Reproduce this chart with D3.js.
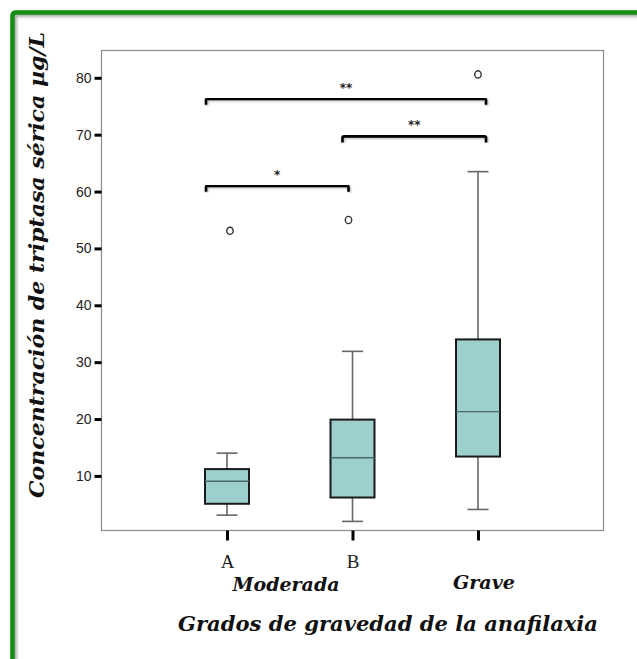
<!DOCTYPE html>
<html>
<head>
<meta charset="utf-8">
<script src="https://cdn.jsdelivr.net/npm/d3@7"></script>
<style>
  html, body { margin: 0; padding: 0; background: #fff; }
  svg { display: block; }
</style>
</head>
<body>
<svg id="chart" width="637" height="659"></svg>
<script>
// Grupos de gravedad y resumen de cada diagrama de caja (µg/L)
const categories = ["A", "B", "Grave"];
const tickLabels = ["A", "B", ""];
const whiskerLow  = [3.1, 2.0, 4.1];
const boxLow      = [5.1, 6.2, 13.4];
const medians     = [9.05, 13.2, 21.3];
const boxHigh     = [11.2, 19.9, 34.0];
const whiskerHigh = [14.0, 31.9, 63.5];
const outliers    = [53.1, 55.0, 80.6];
const yTicks = [10, 20, 30, 40, 50, 60, 70, 80];

// Comparaciones significativas entre grupos
const compFrom  = ["A", "B", "A"];
const compTo    = ["Grave", "Grave", "B"];
const compLevel = [76.3, 69.7, 61.0];
const compMark  = ["**", "**", "*"];

const svg = d3.select("#chart");

// Marco verde con sombra
const defs = svg.append("defs");
const sh = defs.append("filter").attr("id", "sh").attr("x", "-5%").attr("y", "-5%").attr("width", "110%").attr("height", "110%");
sh.append("feDropShadow").attr("dx", 2).attr("dy", 2).attr("stdDeviation", 1.5).attr("flood-color", "#000").attr("flood-opacity", 0.35);
const bsh = defs.append("filter").attr("id", "bsh");
bsh.append("feDropShadow").attr("dx", 1).attr("dy", 1).attr("stdDeviation", 0.8).attr("flood-color", "#000").attr("flood-opacity", 0.3);

svg.append("path")
  .attr("d", "M12.5,680 L12.5,16 Q12.5,12.5 16,12.5 L660,12.5")
  .attr("fill", "none").attr("stroke", "#138d13").attr("stroke-width", 4.5)
  .attr("filter", "url(#sh)");

const plotLeft = 101.5, plotRight = 603.5, plotTop = 50.5, plotBottom = 530.5;

const x = d3.scalePoint().domain(categories).range([plotLeft, plotRight]).padding(1);
const y = d3.scaleLinear().domain([0.4, 84.8]).range([plotBottom, plotTop]);

// Recuadro del área de trazado
svg.append("rect")
  .attr("x", plotLeft).attr("y", plotTop).attr("width", plotRight - plotLeft).attr("height", plotBottom - plotTop)
  .attr("fill", "none").attr("stroke", "#8a8a8a").attr("stroke-width", 1.2);

// Eje Y
const yAxis = svg.append("g").attr("transform", `translate(${plotLeft},0)`)
  .call(d3.axisLeft(y).tickValues(yTicks).tickSize(7).tickPadding(3));
yAxis.select(".domain").remove();
yAxis.selectAll(".tick line").attr("stroke", "#000").attr("stroke-width", 3);
yAxis.selectAll(".tick text")
  .attr("font-family", "Liberation Sans, Arial, sans-serif")
  .attr("font-size", 14).attr("fill", "#222");

// Eje X
const xAxis = svg.append("g").attr("transform", `translate(0,${plotBottom})`)
  .call(d3.axisBottom(x).tickSize(10).tickPadding(14).tickFormat((d, i) => tickLabels[i]));
xAxis.select(".domain").remove();
xAxis.selectAll(".tick line").attr("stroke", "#000").attr("stroke-width", 3);
xAxis.selectAll(".tick text")
  .attr("font-family", "Liberation Serif, Times New Roman, serif")
  .attr("font-size", 19).attr("fill", "#222");

// Diagramas de caja
const boxW = 44, capW = 21;
const g = svg.append("g");
categories.forEach((c, i) => {
  const cx = x(c);
  // bigotes
  g.append("line").attr("x1", cx).attr("x2", cx).attr("y1", y(whiskerLow[i])).attr("y2", y(boxLow[i]))
    .attr("stroke", "#666").attr("stroke-width", 1.6);
  g.append("line").attr("x1", cx).attr("x2", cx).attr("y1", y(boxHigh[i])).attr("y2", y(whiskerHigh[i]))
    .attr("stroke", "#666").attr("stroke-width", 1.6);
  [whiskerLow[i], whiskerHigh[i]].forEach(v => {
    g.append("line").attr("x1", cx - capW / 2).attr("x2", cx + capW / 2).attr("y1", y(v)).attr("y2", y(v))
      .attr("stroke", "#666").attr("stroke-width", 1.6);
  });
  // caja
  g.append("rect")
    .attr("x", cx - boxW / 2).attr("y", y(boxHigh[i]))
    .attr("width", boxW).attr("height", y(boxLow[i]) - y(boxHigh[i]))
    .attr("fill", "#9dcfcd").attr("stroke", "#1a1a1a").attr("stroke-width", 2);
  // mediana
  g.append("line").attr("x1", cx - boxW / 2).attr("x2", cx + boxW / 2)
    .attr("y1", y(medians[i])).attr("y2", y(medians[i]))
    .attr("stroke", "#4a6a6a").attr("stroke-width", 1.4);
  // valor atípico
  g.append("ellipse").attr("cx", cx + (i === 0 ? 3 : i === 1 ? -4 : 0)).attr("cy", y(outliers[i]))
    .attr("rx", 3.2).attr("ry", 3.6)
    .attr("fill", "none").attr("stroke", "#333").attr("stroke-width", 1.4);
});

// Corchetes de significación
const bx0 = c => x(c) - boxW / 2 + 1;
const bx1 = c => x(c) + (c === "Grave" ? 8 : -4);
compFrom.forEach((f, i) => {
  const x0 = f === "B" ? x(f) - 10 : bx0(f);
  const x1 = compTo[i] === "B" ? x(compTo[i]) - 4 : bx1(compTo[i]);
  const yy = y(compLevel[i]);
  svg.append("path")
    .attr("d", `M${x0},${yy + 6} L${x0},${yy + 1.5} Q${x0},${yy} ${x0 + 1.5},${yy} L${x1 - 1.5},${yy} Q${x1},${yy} ${x1},${yy + 1.5} L${x1},${yy + 6}`)
    .attr("fill", "none").attr("stroke", "#000").attr("stroke-width", 2.6)
    .attr("filter", "url(#bsh)");
  svg.append("text")
    .attr("x", (x0 + x1) / 2).attr("y", yy - 7)
    .attr("text-anchor", "middle")
    .attr("font-family", "DejaVu Sans, sans-serif").attr("font-size", 12).attr("font-weight", "bold")
    .attr("fill", "#222")
    .text(compMark[i]);
});

// Títulos
const titleFont = "DejaVu Serif, serif";
svg.append("text")
  .attr("transform", "translate(44,265) rotate(-90)")
  .attr("text-anchor", "middle")
  .attr("font-family", titleFont).attr("font-style", "italic").attr("font-weight", "bold")
  .attr("font-size", 20).attr("fill", "#111")
  .attr("textLength", 466).attr("lengthAdjust", "spacingAndGlyphs")
  .text("Concentración de triptasa sérica µg/L");

svg.append("text")
  .attr("x", 286).attr("y", 591)
  .attr("text-anchor", "middle")
  .attr("font-family", titleFont).attr("font-style", "italic").attr("font-weight", "bold")
  .attr("font-size", 19).attr("fill", "#111")
  .attr("textLength", 107).attr("lengthAdjust", "spacingAndGlyphs")
  .text("Moderada");

svg.append("text")
  .attr("x", 484).attr("y", 589)
  .attr("text-anchor", "middle")
  .attr("font-family", titleFont).attr("font-style", "italic").attr("font-weight", "bold")
  .attr("font-size", 19).attr("fill", "#111")
  .attr("textLength", 62).attr("lengthAdjust", "spacingAndGlyphs")
  .text("Grave");

svg.append("text")
  .attr("x", 388).attr("y", 631)
  .attr("text-anchor", "middle")
  .attr("font-family", titleFont).attr("font-style", "italic").attr("font-weight", "bold")
  .attr("font-size", 20).attr("fill", "#111")
  .attr("textLength", 420).attr("lengthAdjust", "spacingAndGlyphs")
  .text("Grados de gravedad de la anafilaxia");
</script>
</body>
</html>
